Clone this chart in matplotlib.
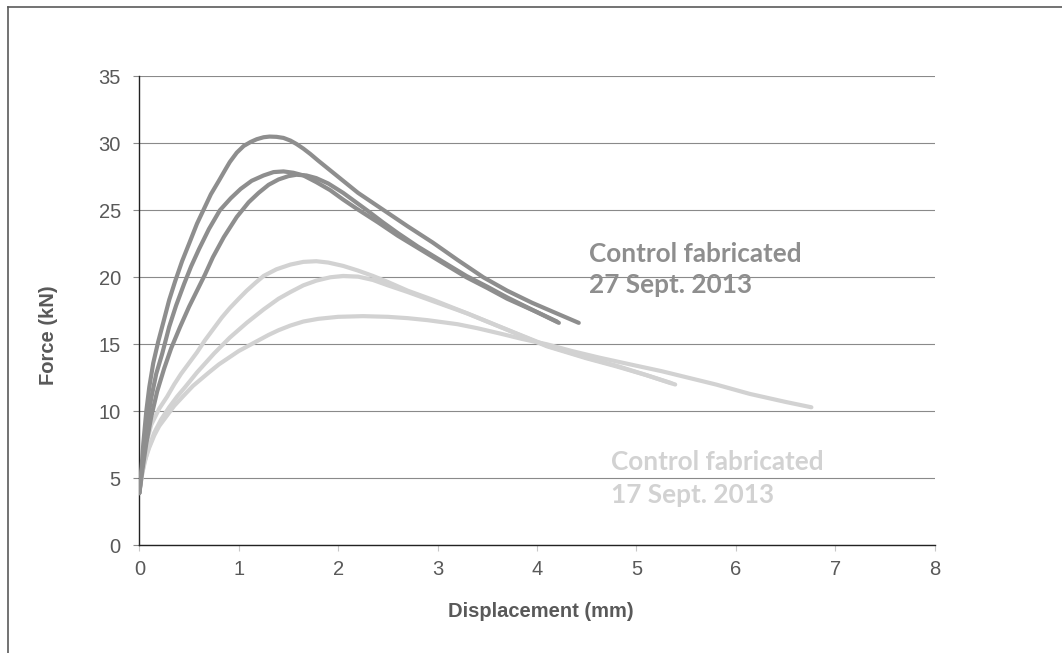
import numpy as np
import matplotlib.pyplot as plt
from matplotlib.lines import Line2D

# -------------------------------
# Force vs displacement curves
# Three specimens fabricated 27 Sept. 2013 (dark) and 17 Sept. 2013 (light)
# -------------------------------

# 27 Sept. 2013 specimens
sep27_a_disp = [0, 0.02, 0.04, 0.07, 0.1, 0.14, 0.19, 0.24, 0.3, 0.36, 0.43, 0.5, 0.58, 0.65, 0.72, 0.8, 0.87,
                0.91, 0.98, 1.05, 1.12, 1.18, 1.25, 1.31, 1.38, 1.45, 1.52, 1.58, 1.65, 1.72, 1.8, 2.0, 2.2,
                2.46, 2.7, 2.95, 3.2, 3.46, 3.7, 3.95, 4.2, 4.42]
sep27_a_force = [3.9, 5.5, 7.6, 10.0, 11.8, 13.6, 15.2, 16.6, 18.3, 19.7, 21.2, 22.5, 24.0, 25.1, 26.2, 27.2, 28.1,
                 28.6, 29.3, 29.8, 30.1, 30.3, 30.45, 30.5, 30.48, 30.4, 30.2, 29.95, 29.6, 29.2, 28.7, 27.5, 26.3,
                 25.0, 23.8, 22.6, 21.3, 20.0, 19.0, 18.1, 17.3, 16.6]

sep27_b_disp = [0, 0.03, 0.07, 0.12, 0.17, 0.23, 0.3, 0.37, 0.45, 0.52, 0.6, 0.7, 0.81, 0.92, 1.02, 1.13, 1.25,
                1.35, 1.45, 1.55, 1.65, 1.78, 1.92, 2.05, 2.19, 2.4, 2.6, 2.8, 3.0, 3.29, 3.5, 3.7, 4.0, 4.22]
sep27_b_force = [3.9, 6.0, 8.7, 11.0, 12.8, 14.3, 16.3, 17.9, 19.5, 20.8, 22.1, 23.6, 25.0, 25.9, 26.6, 27.2, 27.6,
                 27.85, 27.9, 27.8, 27.6, 27.1, 26.5, 25.8, 25.1, 24.1, 23.1, 22.2, 21.3, 20.0, 19.2, 18.4, 17.4, 16.6]

sep27_c_disp = [0, 0.03, 0.07, 0.12, 0.18, 0.25, 0.32, 0.41, 0.5, 0.58, 0.66, 0.74, 0.85, 0.98, 1.1, 1.2, 1.3,
                1.4, 1.5, 1.58, 1.68, 1.78, 1.9, 2.05, 2.17, 2.29, 2.45, 2.6, 2.8, 3.0, 3.29, 3.5, 3.7, 4.0, 4.2]
sep27_c_force = [3.9, 5.6, 7.6, 9.6, 11.5, 13.2, 14.7, 16.3, 17.8, 19.0, 20.2, 21.5, 23.0, 24.5, 25.6, 26.3, 26.9,
                 27.3, 27.55, 27.65, 27.6, 27.4, 27.0, 26.3, 25.65, 25.0, 24.1, 23.3, 22.3, 21.4, 20.1, 19.3, 18.5,
                 17.4, 16.7]

# 17 Sept. 2013 specimens
sep17_d_disp = [0, 0.03, 0.07, 0.12, 0.2, 0.28, 0.35, 0.42, 0.5, 0.58, 0.66, 0.75, 0.83, 0.91, 1.0, 1.08, 1.17,
                1.25, 1.38, 1.52, 1.65, 1.78, 1.9, 2.05, 2.2, 2.35, 2.5, 2.7, 2.96, 3.3, 3.63, 4.1, 4.5, 4.8,
                5.1, 5.39]
sep17_d_force = [3.9, 5.8, 7.6, 9.0, 10.2, 11.1, 12.0, 12.8, 13.6, 14.4, 15.3, 16.2, 17.0, 17.7, 18.4, 19.0, 19.6,
                 20.1, 20.6, 20.95, 21.15, 21.2, 21.1, 20.85, 20.5, 20.1, 19.65, 19.0, 18.3, 17.3, 16.3, 14.9,
                 14.0, 13.4, 12.7, 12.0]

sep17_e_disp = [0, 0.03, 0.08, 0.15, 0.22, 0.3, 0.38, 0.46, 0.58, 0.75, 0.91, 1.08, 1.25, 1.4, 1.52, 1.65, 1.78,
                1.92, 2.05, 2.2, 2.35, 2.5, 2.7, 2.96, 3.3, 3.63, 4.1, 4.5, 4.8, 5.1, 5.35]
sep17_e_force = [3.9, 5.4, 7.0, 8.4, 9.4, 10.3, 11.1, 11.8, 12.9, 14.3, 15.5, 16.6, 17.6, 18.4, 18.9, 19.4, 19.75,
                 20.0, 20.1, 20.05, 19.8, 19.4, 18.9, 18.2, 17.3, 16.3, 14.85, 13.95, 13.35, 12.7, 12.1]

sep17_f_disp = [0, 0.02, 0.05, 0.1, 0.15, 0.2, 0.28, 0.35, 0.45, 0.54, 0.62, 0.7, 0.8, 0.9, 1.0, 1.1, 1.2, 1.3,
                1.4, 1.52, 1.65, 1.8, 2.0, 2.25, 2.5, 2.7, 2.9, 3.2, 3.4, 3.63, 3.85, 4.1, 4.35, 4.63, 5.0, 5.25,
                5.47, 5.8, 6.14, 6.5, 6.76]
sep17_f_force = [3.9, 5.0, 6.2, 7.3, 8.2, 8.9, 9.7, 10.4, 11.2, 11.9, 12.4, 12.9, 13.5, 14.0, 14.5, 14.9, 15.3,
                 15.7, 16.05, 16.4, 16.7, 16.9, 17.05, 17.1, 17.05, 16.95, 16.8, 16.5, 16.2, 15.8, 15.4, 15.0,
                 14.5, 14.0, 13.4, 13.0, 12.6, 12.0, 11.3, 10.7, 10.3]

x_ticks = [0, 1, 2, 3, 4, 5, 6, 7, 8]
y_ticks = [0, 5, 10, 15, 20, 25, 30, 35]

dark = "#8e8e8e"
light = "#d2d2d2"
text_gray = "#595959"

plt.rcParams['font.family'] = ['Liberation Sans', 'DejaVu Sans']

fig = plt.figure(figsize=(10.62, 6.53), dpi=100)
ax = fig.add_axes([0.1312, 0.1649, 0.8801 - 0.1312, 0.8832 - 0.1649])

# light curves first so the dark ones sit on top
for d, f in [(sep17_f_disp, sep17_f_force), (sep17_e_disp, sep17_e_force), (sep17_d_disp, sep17_d_force)]:
    ax.plot(d, f, color=light, linewidth=3, solid_capstyle='round', solid_joinstyle='round', zorder=3)
for d, f in [(sep27_c_disp, sep27_c_force), (sep27_b_disp, sep27_b_force), (sep27_a_disp, sep27_a_force)]:
    ax.plot(d, f, color=dark, linewidth=3, solid_capstyle='round', solid_joinstyle='round', zorder=4)

ax.set_xlim(0, 8)
ax.set_ylim(0, 35)
ax.set_xticks(x_ticks)
ax.set_yticks(y_ticks)
ax.yaxis.grid(True, color="#8a8a8a", linewidth=0.8)
ax.set_axisbelow(True)

for side in ['top', 'right']:
    ax.spines[side].set_visible(False)
for side in ['left', 'bottom']:
    ax.spines[side].set_color("#222222")
    ax.spines[side].set_linewidth(1.0)

ax.tick_params(axis='y', length=4.3, width=0.8, color="#8a8a8a", pad=9,
               labelsize=14.5, labelcolor=text_gray)
ax.tick_params(axis='x', length=4.3, width=0.8, color="#c8c8c8", pad=6,
               labelsize=14.5, labelcolor=text_gray)

# axis titles
fig.text(0.509, 0.0556, "Displacement (mm)", ha='center', va='baseline',
         fontsize=14.5, fontweight='bold', color=text_gray)
fig.text(0.0452, 0.487, "Force (kN)", ha='center', va='center', rotation=90,
         fontsize=14.5, fontweight='bold', color=text_gray)

# group labels
ax.text(4.52, 21.16, "Control fabricated", family='Lato', fontweight='bold', fontsize=18.8, color=dark)
ax.text(4.52, 18.83, "27 Sept. 2013", family='Lato', fontweight='bold', fontsize=18.8, color=dark)
ax.text(4.74, 5.62, "Control fabricated", family='Lato', fontweight='bold', fontsize=18.8, color=light)
ax.text(4.74, 3.16, "17 Sept. 2013", family='Lato', fontweight='bold', fontsize=18.8, color=light)

# chart border (left and top edges only show in the reference)
bx = 7.5 / 1062
by = 1 - 6.5 / 653
fig.add_artist(Line2D([bx, bx], [0, by], transform=fig.transFigure, color="#5a5a5a", linewidth=1.2))
fig.add_artist(Line2D([bx, 1], [by, by], transform=fig.transFigure, color="#5a5a5a", linewidth=1.2))

fig.savefig("out.png", dpi=100, facecolor="white")
